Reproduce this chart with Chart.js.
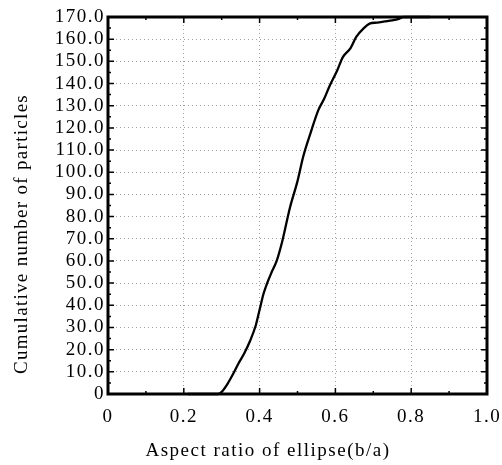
<!DOCTYPE html>
<html>
<head>
<meta charset="utf-8">
<script src="https://cdn.jsdelivr.net/npm/chart.js@4"></script>
<style>
  body { margin: 0; background: #fff; }
  canvas { display: block; }
</style>
</head>
<body>
<canvas id="chart" width="502" height="465"></canvas>
<script>
const aspectRatio = [0.21, 0.29, 0.30, 0.315, 0.33, 0.345, 0.36, 0.375, 0.39, 0.40, 0.41, 0.42, 0.432, 0.445, 0.46, 0.48, 0.50, 0.515, 0.535, 0.555, 0.57, 0.585, 0.605, 0.62, 0.64, 0.655, 0.675, 0.69, 0.71, 0.73, 0.75, 0.765, 0.78, 0.85];
const cumulative = [0, 0, 1, 4.5, 9, 14, 18.5, 24, 31, 38, 45, 50, 55, 60, 69, 84, 96, 107, 118, 128, 133, 139, 146, 152, 156, 161, 165, 167, 167.5, 168, 168.5, 169, 170, 170];

const xTitle = "Aspect ratio of ellipse(b/a)";
const yTitle = "Cumulative number of particles";
const xRange = [0, 1];
const yRange = [0, 170];

const serif = "'Liberation Serif', 'DejaVu Serif', serif";

const points = aspectRatio.map((x, i) => ({ x: x, y: cumulative[i] }));

const fmt = v => v === 0 ? "0" : Number(v).toFixed(1);

// letter spacing for every text the chart draws
const spacing = {
    id: "spacing",
    beforeInit(chart) { chart.ctx.letterSpacing = "1.5px"; },
    beforeUpdate(chart) { chart.ctx.letterSpacing = "1.5px"; },
    beforeDraw(chart) { chart.ctx.letterSpacing = "1.5px"; }
};

// heavy frame, inward ticks and the two axis titles
const frame = {
    id: "frame",
    afterDraw(chart) {
        const { ctx, chartArea: a, scales: { x, y } } = chart;
        ctx.save();
        ctx.strokeStyle = "#000";
        ctx.lineWidth = 1.5;
        for (let i = 1; i < 10; i++) {
            const px = x.getPixelForValue(i / 10);
            const len = i % 2 === 0 ? 6 : 3;
            ctx.beginPath();
            ctx.moveTo(px, a.bottom); ctx.lineTo(px, a.bottom - len);
            ctx.moveTo(px, a.top); ctx.lineTo(px, a.top + len);
            ctx.stroke();
        }
        for (let v = 5; v < 170; v += 5) {
            const py = y.getPixelForValue(v);
            const len = v % 10 === 0 ? 6 : 3;
            ctx.beginPath();
            ctx.moveTo(a.left, py); ctx.lineTo(a.left + len, py);
            ctx.moveTo(a.right, py); ctx.lineTo(a.right - len, py);
            ctx.stroke();
        }
        ctx.lineWidth = 3;
        ctx.strokeRect(a.left, a.top, a.right - a.left, a.bottom - a.top);

        ctx.fillStyle = "#000";
        ctx.font = "19px " + serif;
        ctx.letterSpacing = "1.5px";
        ctx.textAlign = "center";
        ctx.textBaseline = "middle";
        ctx.fillText(xTitle, 268, 451);
        ctx.letterSpacing = "1.3px";
        ctx.translate(22, 234);
        ctx.rotate(-Math.PI / 2);
        ctx.fillText(yTitle, 0, 0);
        ctx.restore();
    }
};

new Chart(document.getElementById("chart"), {
    type: "line",
    data: {
        datasets: [{
            data: points,
            borderColor: "#000",
            borderWidth: 2.3,
            pointRadius: 0,
            fill: false,
            cubicInterpolationMode: "monotone"
        }]
    },
    options: {
        responsive: false,
        animation: false,
        clip: false,
        layout: { padding: { top: 17, right: 15, left: 0, bottom: 0 } },
        plugins: { legend: { display: false }, tooltip: { enabled: false } },
        scales: {
            x: {
                type: "linear",
                min: xRange[0],
                max: xRange[1],
                afterFit: s => { s.height = 71; s.paddingLeft = 0; s.paddingRight = 0; },
                grid: { color: "#a0a0a0", lineWidth: 1, drawTicks: false },
                border: { display: false, dash: [1, 3] },
                ticks: {
                    stepSize: 0.2,
                    padding: 12,
                    color: "#000",
                    font: { family: serif, size: 19 },
                    callback: fmt
                }
            },
            y: {
                min: yRange[0],
                max: yRange[1],
                afterFit: s => { s.width = 108; s.paddingTop = 0; s.paddingBottom = 0; },
                grid: { color: "#a0a0a0", lineWidth: 1, drawTicks: false },
                border: { display: false, dash: [1, 3] },
                ticks: {
                    stepSize: 10,
                    autoSkip: false,
                    padding: 3,
                    color: "#000",
                    font: { family: serif, size: 19 },
                    callback: fmt
                }
            }
        }
    },
    plugins: [spacing, frame]
});
</script>
</body>
</html>
